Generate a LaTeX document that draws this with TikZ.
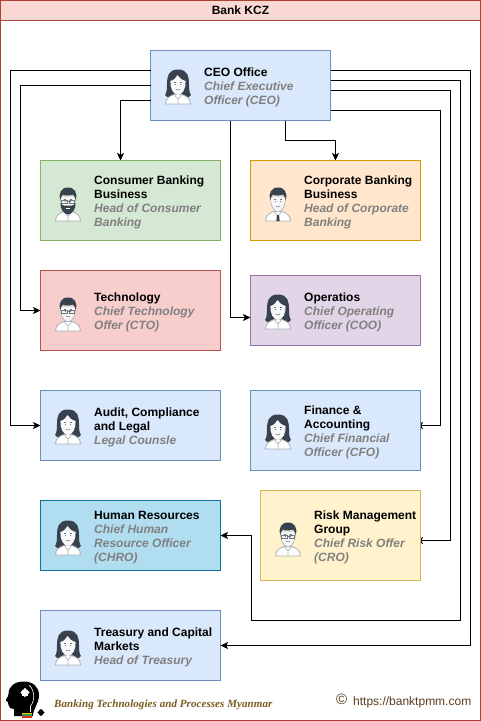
\documentclass[tikz,border=0pt]{standalone}
\usepackage{fontspec}
\setmainfont{Liberation Sans}
\newfontfamily\logofont[LetterSpace=0.7]{Liberation Serif}
\usetikzlibrary{arrows.meta}
\pgfdeclarelayer{paper}
\pgfdeclarelayer{under}
\pgfsetlayers{paper,under,main}
\definecolor{rolegray}{HTML}{808080}
\definecolor{hairc}{HTML}{37424E}
\definecolor{skinc}{HTML}{F7F7F7}
\definecolor{outc}{HTML}{A8AEB4}
\definecolor{glassc}{HTML}{6E767E}
\definecolor{logobrown}{HTML}{7A5A1E}
\definecolor{urlbrown}{HTML}{5A3A1E}
\definecolor{HTMLframe}{HTML}{AE4132}
\definecolor{HTMLtitle}{HTML}{FAD9D5}
\definecolor{HTMLblue}{HTML}{6C8EBF}
\definecolor{HTMLbluef}{HTML}{DAE8FC}
\definecolor{HTMLgreen}{HTML}{82B366}
\definecolor{HTMLgreenf}{HTML}{D5E8D4}
\definecolor{HTMLorange}{HTML}{D79B00}
\definecolor{HTMLorangef}{HTML}{FFE6CC}
\definecolor{HTMLred}{HTML}{B85450}
\definecolor{HTMLredf}{HTML}{F8CECC}
\definecolor{HTMLpurple}{HTML}{9673A6}
\definecolor{HTMLpurplef}{HTML}{E1D5E7}
\definecolor{HTMLcyan}{HTML}{10739E}
\definecolor{HTMLcyanf}{HTML}{B1DDF0}
\definecolor{HTMLyellow}{HTML}{D6B656}
\definecolor{HTMLyellowf}{HTML}{FFF2CC}
\definecolor{HTMLfy}{HTML}{F5C518}
\definecolor{HTMLfg}{HTML}{2E9E3E}
\definecolor{HTMLfr}{HTML}{D9302A}
\newcommand{\roletxt}[1]{{\itshape\color{rolegray}#1}}
\newcommand{\faceparts}{%
  \fill[glassc] (-3.6,-4.6) rectangle (-1.6,-4.1);
  \fill[glassc] (1.6,-4.6) rectangle (3.6,-4.1);
  \fill[glassc] (-2.6,-2.4) circle (.6) (2.6,-2.4) circle (.6);
  \draw[glassc,line width=.5pt] (-2,2.2) .. controls (-1,3.2) and (1,3.2) .. (2,2.2);
}
\newcommand{\bodyparts}{%
  \draw[outc,fill=white,line width=.8pt] (-12.5,17) .. controls (-12.5,11) and (-8,9) .. (-4,7.5)
    -- (4,7.5) .. controls (8,9) and (12.5,11) .. (12.5,17) -- cycle;
  \draw[outc,line width=.6pt] (-3.5,8) -- (0,12) -- (3.5,8) (0,12) -- (0,17);
}
\newcommand{\glassparts}{%
  \draw[glassc,line width=.7pt] (-6.8,-4) rectangle (-1,-1) (1,-4) rectangle (6.8,-1) (-1,-3) -- (1,-3);
}
\tikzset{
  x=1pt,y=-1pt,
  box/.style={draw,line width=1pt,anchor=north west,inner sep=0pt,outer sep=0pt},
  txt/.style={anchor=west,align=left,inner sep=0pt,font=\fontsize{12}{14}\selectfont\bfseries},
  conn/.style={draw=black,line width=1pt,-{Stealth[length=7.5pt,width=7pt,inset=1.8pt]}},
  avwoman/.pic={
    \fill[hairc] (0,-17.5) .. controls (-10,-17.5) and (-11,-10) .. (-11,-3)
      .. controls (-11,3) and (-11.5,6) .. (-13,8) .. controls (-11,11) and (-7,11) .. (-4,9)
      -- (4,9) .. controls (7,11) and (11,11) .. (13,8) .. controls (11.5,6) and (11,3) .. (11,-3)
      .. controls (11,-10) and (10,-17.5) .. (0,-17.5) -- cycle;
    \bodyparts
    \fill[skinc] (-7.6,-6) .. controls (-4,-7) and (-2,-9) .. (-0.5,-12) .. controls (1,-9) and (4,-7) .. (7.6,-6)
      .. controls (8,1) and (5,7.5) .. (0,8) .. controls (-5,7.5) and (-8,1) .. (-7.6,-6) -- cycle;
    \faceparts
  },
  avman/.pic={
    \bodyparts
    \draw[outc,fill=skinc,line width=.6pt] (-7.4,-8) .. controls (-8,1) and (-4.5,7.5) .. (0,8)
      .. controls (4.5,7.5) and (8,1) .. (7.4,-8) -- cycle;
    \fill[hairc] (-7.8,-4) .. controls (-9.5,-11) and (-7,-16.5) .. (0,-16.5)
      .. controls (7,-16.5) and (9.5,-11) .. (7.8,-4) .. controls (7.2,-6) and (6.5,-8) .. (5,-9.5)
      .. controls (1,-8.2) and (-3,-8.2) .. (-5,-9.5) .. controls (-6.5,-8) and (-7.2,-6) .. (-7.8,-4) -- cycle;
    \faceparts
  },
  avglass/.pic={
    \pic {avman};
    \glassparts
  },
  avbeard/.pic={
    \pic {avman};
    \fill[hairc] (-7.6,-1) .. controls (-8,5) and (-4,10.5) .. (0,10.5)
      .. controls (4,10.5) and (8,5) .. (7.6,-1) .. controls (5,2.5) and (3,1.5) .. (0,1.5)
      .. controls (-3,1.5) and (-5,2.5) .. (-7.6,-1) -- cycle;
    \fill[skinc] (-2,4) rectangle (2,5);
    \glassparts
  },
  avtie/.pic={
    \pic {avman};
    \fill[hairc] (-1.1,11) -- (1.1,11) -- (1.6,17) -- (-1.6,17) -- cycle;
  },
  puzzle/.pic={
    \fill (-4,-4) rectangle (4,4);
    \fill (0,-4) circle (2.2) (4,0) circle (2.2) (-4,0) circle (2.2) (0,4) circle (2.2);
  }
}
\begin{document}
\begin{tikzpicture}
\useasboundingbox (0,0) rectangle (481,721);
\begin{pgfonlayer}{paper}
\fill[white] (0,0) rectangle (481,721);
\end{pgfonlayer}
% frame
\node[box,draw=HTMLframe,minimum width=480pt,minimum height=720pt] (frame) at (0.5,0.5) {};
\node[box,draw=HTMLframe,fill=HTMLtitle,minimum width=480pt,minimum height=20pt,
  font=\fontsize{12}{14}\selectfont\bfseries] (title) at (0.5,0.5) {Bank KCZ};
% boxes
\node[box,draw=HTMLblue,fill=HTMLbluef,minimum width=180pt,minimum height=70pt] (ceo) at (150.5,50.5) {};
\node[box,draw=HTMLgreen,fill=HTMLgreenf,minimum width=180pt,minimum height=80pt] (consumer) at (40.5,160.5) {};
\node[box,draw=HTMLorange,fill=HTMLorangef,minimum width=170pt,minimum height=80pt] (corporate) at (250.5,160.5) {};
\node[box,draw=HTMLred,fill=HTMLredf,minimum width=180pt,minimum height=80pt] (technology) at (40.5,270.5) {};
\node[box,draw=HTMLpurple,fill=HTMLpurplef,minimum width=170pt,minimum height=70pt] (operations) at (250.5,275.5) {};
\node[box,draw=HTMLblue,fill=HTMLbluef,minimum width=180pt,minimum height=70pt] (audit) at (40.5,390.5) {};
\node[box,draw=HTMLblue,fill=HTMLbluef,minimum width=170pt,minimum height=80pt] (finance) at (250.5,390.5) {};
\node[box,draw=HTMLcyan,fill=HTMLcyanf,minimum width=180pt,minimum height=70pt] (hr) at (40.5,500.5) {};
\node[box,draw=HTMLyellow,fill=HTMLyellowf,minimum width=160pt,minimum height=90pt] (risk) at (260.5,490.5) {};
\node[box,draw=HTMLblue,fill=HTMLbluef,minimum width=180pt,minimum height=70pt] (treasury) at (40.5,610.5) {};
% texts
\node[txt] (ceoT) at (204,87.5) {CEO Office\\\roletxt{Chief Executive}\\\roletxt{Officer (CEO)}};
\node[txt] (consumerT) at (94,202.5) {Consumer Banking\\Business\\\roletxt{Head of Consumer}\\\roletxt{Banking}};
\node[txt] (corporateT) at (304,202.5) {Corporate Banking\\Business\\\roletxt{Head of Corporate}\\\roletxt{Banking}};
\node[txt] (technologyT) at (94,312.5) {Technology\\\roletxt{Chief Technology}\\\roletxt{Offer (CTO)}};
\node[txt] (operationsT) at (304,312.5) {Operatios\\\roletxt{Chief Operating}\\\roletxt{Officer (COO)}};
\node[txt] (auditT) at (94,427.5) {Audit, Compliance\\and Legal\\\roletxt{Legal Counsle}};
\node[txt] (financeT) at (304,432.5) {Finance \&\\Accounting\\\roletxt{Chief Financial}\\\roletxt{Officer (CFO)}};
\node[txt] (hrT) at (94,537.5) {Human Resources\\\roletxt{Chief Human}\\\roletxt{Resource Officer}\\\roletxt{(CHRO)}};
\node[txt] (riskT) at (314,537.5) {Risk Management\\Group\\\roletxt{Chief Risk Offer}\\\roletxt{(CRO)}};
\node[txt] (treasuryT) at (94,647.5) {Treasury and Capital\\Markets\\\roletxt{Head of Treasury}};
% avatars
\pic at (178,87) {avwoman};
\pic at (68,204) {avbeard};
\pic at (278,204) {avtie};
\pic at (68,314) {avglass};
\pic at (278,312) {avwoman};
\pic at (68,427) {avwoman};
\pic at (278,432) {avwoman};
\pic at (68,538) {avwoman};
\pic at (288,539) {avglass};
\pic at (68,648) {avwoman};
% connector rails
\coordinate (railLa) at (10.5,300);
\coordinate (railLb) at (20.5,200);
\coordinate (railRa) at (470.5,300);
\coordinate (railRb) at (460.5,620.5);
\coordinate (railRbb) at (251.5,620.5);
\coordinate (railRc) at (450.5,300);
\coordinate (railRd) at (440.5,300);
% connectors
\draw[conn] ([yshift=15pt]ceo.west) -| (railLa) |- (audit.west);
\draw[conn] (ceo.west) -| (railLb) |- (technology.west);
\draw[conn] ([yshift=-15pt]ceo.west) -| ([xshift=-10pt]consumer.north);
\draw[conn] ([xshift=-10pt]ceo.south) |- ([yshift=-7pt]operations.west);
\draw[conn] ([xshift=45pt]ceo.south) -- ++(0,20) -| (corporate.north);
\draw[conn] ([yshift=15pt]ceo.east) -| (railRa) |- (treasury.east);
\draw[conn] ([yshift=5pt]ceo.east) -| (railRb) -- (railRbb) |- (hr.east);
\begin{pgfonlayer}{under}
\draw[conn] ([yshift=-5pt]ceo.east) -| (railRc) |- ([yshift=-5pt,xshift=-5pt]risk.east);
\draw[conn] ([yshift=-25pt]ceo.east) -| (railRd) |- ([yshift=5pt,xshift=-5pt]finance.east);
\end{pgfonlayer}
% logo
\fill[black] (14,716) -- (14,709) .. controls (11,709) and (8.5,708) .. (8.5,705) -- (8,702)
  .. controls (6,701.5) and (5.5,700.5) .. (6,699.5) .. controls (7.5,697) and (8.5,696) .. (8.5,694)
  .. controls (8.5,686) and (15,681.5) .. (24,681.5) .. controls (33,681.5) and (39,687) .. (39,695)
  .. controls (39,704) and (33,708) .. (33,716) -- cycle;
\pic[white,scale=.75] at (25,692.5) {puzzle};
\draw[white,line width=.6pt] (29,685) .. controls (35,690) and (35,701) .. (30.5,706) -- (30.5,712);
\fill[HTMLfy] (22,712.5) rectangle (32,714.2);
\fill[HTMLfg] (22,714.2) rectangle (32,715.9);
\fill[HTMLfr] (22,715.9) rectangle (32,717.5);
\pic[black,scale=.6] at (41,712.5) {puzzle};
\node[anchor=base west,inner sep=0pt,text=logobrown,font=\fontsize{11}{12}\selectfont\logofont\bfseries\itshape] (logotext) at (54,707.5) {Banking Technologies and Processes Myanmar};
\node[anchor=base west,inner sep=0pt,text=urlbrown,font=\fontsize{12}{14}\selectfont] (url) at (353,705) {https://banktpmm.com};
\node[anchor=base west,inner sep=0pt,text=urlbrown,font=\fontsize{15}{16}\selectfont] (copy) at (336,704) {©};
\end{tikzpicture}
\end{document}
